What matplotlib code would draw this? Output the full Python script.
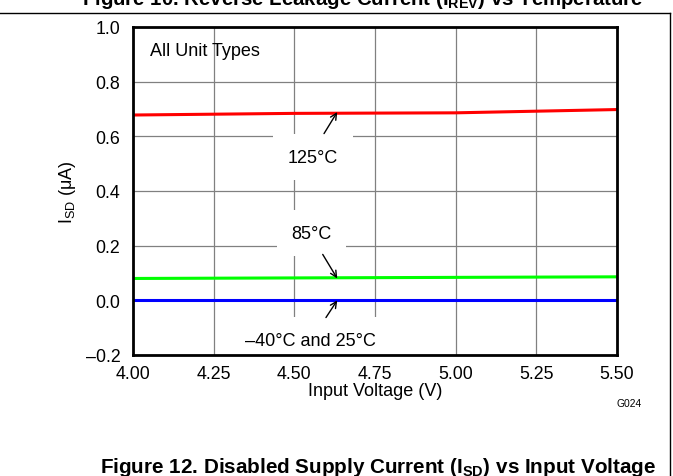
import matplotlib
matplotlib.use("Agg")
import matplotlib.pyplot as plt
from matplotlib.lines import Line2D

plt.rcParams['font.family'] = ['Liberation Sans', 'DejaVu Sans']
plt.rcParams['mathtext.fontset'] = 'custom'
plt.rcParams['mathtext.rm'] = 'Liberation Sans'
plt.rcParams['mathtext.it'] = 'Liberation Sans'
plt.rcParams['mathtext.bf'] = 'Liberation Sans:bold'

# ---- data ----
voltage = [4.00, 4.25, 4.50, 4.75, 5.00, 5.25, 5.50]
isd_125 = [0.678, 0.681, 0.684, 0.685, 0.686, 0.692, 0.698]
isd_85 = [0.080, 0.081, 0.082, 0.083, 0.084, 0.085, 0.086]
isd_m40_25 = [0.000, 0.000, 0.000, 0.000, 0.000, 0.000, 0.000]

xticks = [4.00, 4.25, 4.50, 4.75, 5.00, 5.25, 5.50]
xticklabels = ['4.00', '4.25', '4.50', '4.75', '5.00', '5.25', '5.50']
yticks = [-0.2, 0.0, 0.2, 0.4, 0.6, 0.8, 1.0]
yticklabels = ['\u20130.2', '0.0', '0.2', '0.4', '0.6', '0.8', '1.0']

W, H = 673, 477
fig = plt.figure(figsize=(W / 100, H / 100), dpi=100)
ax = fig.add_axes([133 / W, 1 - 356 / H, (617 - 133) / W, (356 - 28) / H])

ax.plot(voltage, isd_125, color='#ff0000', lw=2.2, zorder=4)
ax.plot(voltage, isd_85, color='#00ff00', lw=2.2, zorder=4)
ax.plot(voltage, isd_m40_25, color='#0000ff', lw=2.2, zorder=4)

ax.set_xlim(4.0, 5.5)
ax.set_ylim(-0.2, 1.0)
ax.set_xticks(xticks)
ax.set_xticklabels(xticklabels)
ax.set_yticks(yticks)
ax.set_yticklabels(yticklabels)
ax.tick_params(axis='both', length=0, labelsize=12.8, colors='black')
ax.tick_params(axis='x', pad=7)
ax.tick_params(axis='y', pad=9)
ax.set_axisbelow(True)
ax.grid(True, color='#808080', lw=0.9)
for s in ax.spines.values():
    s.set_linewidth(2.0)
    s.set_color('black')
    s.set_zorder(6)

ax.set_xlabel('Input Voltage (V)', fontsize=13, va='center')
ax.xaxis.set_label_coords(0.5, (356 - 392) / 328)
ax.set_ylabel('I$_{\\mathrm{SD}}$ (\u03bcA)', fontsize=13, va='center')
ax.yaxis.set_label_coords((68 - 133) / 484, 0.5)

ax.text(0.035, 0.927, 'All Unit Types', transform=ax.transAxes, fontsize=13,
        ha='left', va='center', zorder=5)

box = dict(boxstyle='square,pad=0.8', fc='white', ec='none')
ax.text(4.558, 0.523, '125\u00b0C', fontsize=13, ha='center', va='center', bbox=box, zorder=3)
ax.text(4.553, 0.245, '85\u00b0C', fontsize=13, ha='center', va='center', bbox=box, zorder=3)
ax.text(4.55, -0.146, '\u201340\u00b0C and 25\u00b0C', fontsize=13, ha='center', va='center',
        bbox=box, zorder=3, clip_on=True)

arr = dict(arrowstyle='->,head_length=0.45,head_width=0.22', lw=1.0, color='black',
           shrinkA=0, shrinkB=0)
ax.annotate('', xy=(4.633, 0.689), xytext=(4.592, 0.610), arrowprops=arr, zorder=5)
ax.annotate('', xy=(4.633, 0.080), xytext=(4.588, 0.168), arrowprops=arr, zorder=5)
ax.annotate('', xy=(4.633, 0.000), xytext=(4.598, -0.063), arrowprops=arr, zorder=5)

# outside page elements
fig.text(629 / W, 1 - 404 / H, 'G024', fontsize=7.4, ha='center', va='center')
fig.text(363 / W, 1 - 5 / H,
         r'Figure 10. Reverse Leakage Current ($\mathbf{I_{REV}}$) vs Temperature',
         fontsize=14.7, fontweight='bold', ha='center', va='baseline')
fig.text(378.5 / W, 1 - 473 / H,
         r'Figure 12. Disabled Supply Current ($\mathbf{I_{SD}}$) vs Input Voltage',
         fontsize=14.9, fontweight='bold', ha='center', va='baseline')
fig.add_artist(Line2D([0, 670 / W], [1 - 14 / H, 1 - 14 / H], transform=fig.transFigure,
                      color='black', lw=1.0))
fig.add_artist(Line2D([670 / W, 670 / W], [1 - 14 / H, 0], transform=fig.transFigure,
                      color='black', lw=1.0))

fig.savefig('out.png', dpi=100)
